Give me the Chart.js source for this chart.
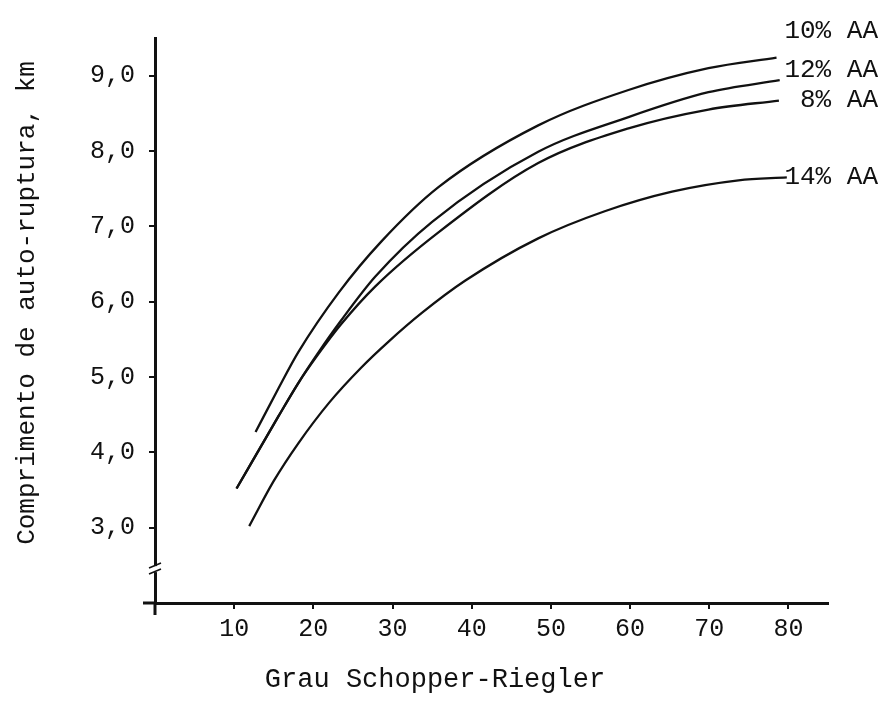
<!DOCTYPE html>
<html>
<head>
<meta charset="utf-8">
<script src="https://cdn.jsdelivr.net/npm/chart.js@4.4.1/dist/chart.umd.min.js"></script>
<style>
  html, body { margin: 0; padding: 0; background: #fff; }
  #wrap { width: 884px; height: 720px; }
</style>
</head>
<body>
<div id="wrap"><canvas id="myChart" width="884" height="720"></canvas></div>
<script>
// values
const xTicks = [10, 20, 30, 40, 50, 60, 70, 80];
const yTicks = [3, 4, 5, 6, 7, 8, 9];

const seriesLabels = ['10% AA', '12% AA', '8% AA', '14% AA'];

const x10 = [12.7, 15.6, 18.1, 23.2, 28.6, 35.8, 48.4, 59.8, 69.9, 78.5];
const y10 = [4.27, 4.85, 5.33, 6.12, 6.80, 7.52, 8.34, 8.81, 9.10, 9.24];

const x12 = [10.3, 15.6, 18.1, 20.6, 23.5, 27.8, 35.0, 48.4, 59.8, 69.9, 78.9];
const y12 = [3.52, 4.48, 4.92, 5.32, 5.75, 6.33, 7.06, 7.99, 8.45, 8.78, 8.94];

const x8 = [10.3, 15.6, 18.1, 20.6, 23.5, 27.8, 35.8, 48.4, 59.8, 69.9, 78.8];
const y8 = [3.52, 4.48, 4.92, 5.30, 5.70, 6.20, 6.92, 7.84, 8.30, 8.55, 8.67];

const x14 = [11.9, 15.0, 18.1, 22.0, 26.0, 29.5, 33.7, 39.2, 48.4, 56.8, 65.3, 73.7, 79.8];
const y14 = [3.02, 3.62, 4.12, 4.66, 5.12, 5.47, 5.85, 6.28, 6.84, 7.20, 7.46, 7.61, 7.65];

const FONT = '"Liberation Mono", "DejaVu Sans Mono", monospace';
const INK = '#111';

function pts(xs, ys) {
  return xs.map((x, i) => ({ x: x, y: ys[i] }));
}

function curve(label, xs, ys) {
  return {
    label: label,
    data: pts(xs, ys),
    borderColor: INK,
    borderWidth: 2.3,
    pointRadius: 0,
    fill: false,
    tension: 0.4,
    cubicInterpolationMode: 'monotone',
  };
}

// labels beside the curve ends, axis titles, axis break
const extras = {
  id: 'extras',
  afterDraw(chart) {
    const ctx = chart.ctx;
    const xs = chart.scales.x;
    const ys = chart.scales.y;
    const ax = xs.getPixelForValue(0);
    const ay = ys.getPixelForValue(2);

    ctx.save();
    ctx.strokeStyle = INK;
    ctx.fillStyle = INK;

    // axes cross a little past the origin
    ctx.lineWidth = 3;
    ctx.beginPath();
    ctx.moveTo(ax - 12, ay); ctx.lineTo(ax, ay);
    ctx.moveTo(ax, ay); ctx.lineTo(ax, ay + 12);
    ctx.stroke();

    // break on the y axis
    const by = ys.getPixelForValue(2.45);
    ctx.fillStyle = '#fff';
    ctx.fillRect(ax - 3, by - 3, 6, 6);
    ctx.fillStyle = INK;
    ctx.lineWidth = 1.6;
    ctx.beginPath();
    ctx.moveTo(ax - 6, by - 1); ctx.lineTo(ax + 6, by - 6);
    ctx.moveTo(ax - 6, by + 5); ctx.lineTo(ax + 6, by);
    ctx.stroke();

    // series labels at the right end of each curve
    const ends = [[x10, y10, -26], [x12, y12, -10], [x8, y8, 0], [x14, y14, 0]];
    ctx.font = '26px ' + FONT;
    ctx.textAlign = 'right';
    ctx.textBaseline = 'middle';
    ends.forEach((e, i) => {
      const py = ys.getPixelForValue(e[1][e[1].length - 1]) + e[2];
      ctx.fillText(seriesLabels[i], chart.width - 6, py);
    });

    // axis titles
    ctx.textAlign = 'center';
    ctx.font = '27px ' + FONT;
    ctx.fillText('Grau Schopper-Riegler', 435, 680);
    ctx.font = '26px ' + FONT;
    ctx.translate(27, 303);
    ctx.rotate(-Math.PI / 2);
    ctx.fillText('Comprimento de auto-ruptura, km', 0, 0);
    ctx.restore();
  }
};

window.onload = function() {
  var ctx = document.getElementById('myChart').getContext('2d');
  Chart.defaults.font.family = FONT;
  Chart.defaults.color = INK;
  new Chart(ctx, {
    type: 'line',
    data: {
      datasets: [
        curve(seriesLabels[0], x10, y10),
        curve(seriesLabels[1], x12, y12),
        curve(seriesLabels[2], x8, y8),
        curve(seriesLabels[3], x14, y14),
      ],
    },
    options: {
      responsive: false,
      animation: false,
      layout: { padding: { top: 38, right: 56, left: 0, bottom: 0 } },
      plugins: {
        legend: { display: false },
        tooltip: { enabled: false },
      },
      scales: {
        x: {
          type: 'linear',
          min: 0,
          max: 85,
          afterBuildTicks: s => { s.ticks = xTicks.map(v => ({ value: v })); },
          afterFit: s => { s.height = 117; },
          border: { color: INK, width: 3 },
          grid: { drawOnChartArea: false, drawTicks: true, tickLength: 6, color: INK, lineWidth: 2 },
          ticks: { font: { size: 25 }, padding: 5, maxRotation: 0 },
        },
        y: {
          type: 'linear',
          min: 2,
          max: 9.5,
          afterBuildTicks: s => { s.ticks = yTicks.map(v => ({ value: v })); },
          afterFit: s => { s.width = 155; },
          border: { color: INK, width: 3 },
          grid: { drawOnChartArea: false, drawTicks: true, tickLength: 6, color: INK, lineWidth: 2 },
          ticks: {
            font: { size: 25 },
            padding: 14,
            callback: v => v.toFixed(1).replace('.', ','),
          },
        },
      },
    },
    plugins: [extras],
  });
};
</script>
</body>
</html>
